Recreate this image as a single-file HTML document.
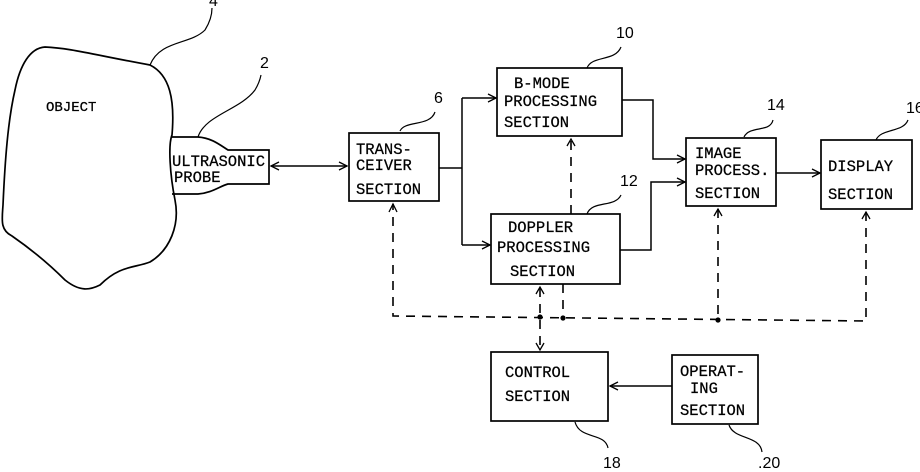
<!DOCTYPE html>
<html><head><style>
html,body{margin:0;padding:0;background:#fff;}
svg{display:block;}
text{font-family:"Liberation Mono",monospace;font-size:15.5px;fill:#000;stroke:#000;stroke-width:0.25;}
.n{font-family:"Liberation Sans",sans-serif;font-size:16px;stroke:none;}
</style></head><body>
<svg width="920" height="472" viewBox="0 0 920 472" xmlns="http://www.w3.org/2000/svg">
<defs>
<marker id="a" markerWidth="10" markerHeight="10" refX="9" refY="5" orient="auto" markerUnits="userSpaceOnUse"><path d="M1,1 L9,5 L1,9" fill="none" stroke="#000" stroke-width="1.3"/></marker>
<marker id="s" markerWidth="10" markerHeight="10" refX="1" refY="5" orient="auto" markerUnits="userSpaceOnUse"><path d="M9,1 L1,5 L9,9" fill="none" stroke="#000" stroke-width="1.3"/></marker>
</defs>
<g fill="none" stroke="#000" stroke-width="1.7">
<path d="M45,47 C70,48 95,55 150,65 C170,75 175,100 172,135 C168,145 170,175 175,200 C180,225 170,250 150,262 C135,268 120,265 100,285 C90,290 80,292 65,280 C45,260 25,245 12,236 C0,230 2,220 3,205 C5,160 8,120 15,90 C20,65 30,48 45,47 Z"/>
<path d="M172,137 L198,137 C212,138 220,145 228,150 L269,150 L269,184 L228,184 C220,186 212,193 198,194 L172,194"/>
<rect x="349" y="133" width="90" height="68"/>
<rect x="497" y="68" width="125" height="68"/>
<rect x="491" y="214" width="129" height="70"/>
<rect x="686" y="138" width="90" height="68"/>
<rect x="821" y="140" width="91" height="69"/>
<rect x="491" y="352" width="117" height="69"/>
<rect x="672" y="355" width="86" height="69"/>
</g>
<g fill="none" stroke="#000" stroke-width="1.5">
<line x1="271" y1="166" x2="347" y2="166" marker-start="url(#s)" marker-end="url(#a)"/>
<line x1="439" y1="168" x2="462" y2="168"/>
<line x1="462" y1="98" x2="462" y2="245"/>
<line x1="462" y1="98" x2="496" y2="98" marker-end="url(#a)"/>
<line x1="462" y1="245" x2="490" y2="245" marker-end="url(#a)"/>
<polyline points="622,100 653,100 653,159 685,159" marker-end="url(#a)"/>
<polyline points="620,250 651,250 651,182 685,182" marker-end="url(#a)"/>
<line x1="776" y1="173" x2="820" y2="173" marker-end="url(#a)"/>
<line x1="672" y1="386" x2="610" y2="386" marker-end="url(#a)"/>
<path d="M150,65 C160,40 190,45 205,30 C210,22 212,15 212,8" stroke-width="1.2"/>
<path d="M198,137 C205,115 240,110 255,90 C258,85 260,80 261,75" stroke-width="1.2"/>
<path d="M400,131 C405,120 430,127 435,112" stroke-width="1.2"/>
<path d="M587,68 C592,55 615,62 621,47" stroke-width="1.2"/>
<path d="M587,214 C592,200 615,208 621,195" stroke-width="1.2"/>
<path d="M744,137 C750,125 770,133 773,120" stroke-width="1.2"/>
<path d="M876,140 C881,128 903,133 908,120" stroke-width="1.2"/>
<path d="M575,422 C580,440 605,432 608,448" stroke-width="1.2"/>
<path d="M729,425 C734,440 760,435 762,452" stroke-width="1.2"/>
</g>
<g fill="none" stroke="#000" stroke-width="1.6" stroke-dasharray="9,7">
<polyline points="866,212 866,321 393,316 393,204" />
<line x1="540" y1="288" x2="540" y2="350"/>
<line x1="563" y1="284" x2="563" y2="318"/>
<line x1="571" y1="214" x2="571" y2="139"/>
<line x1="718" y1="209" x2="718" y2="320"/>
</g>
<g fill="none" stroke="#000" stroke-width="1.3">
<path d="M389,212 L393,204 L397,212"/>
<path d="M536,294 L540,287 L544,294"/>
<path d="M536,343 L540,350 L544,343"/>
<path d="M567,146 L571,139 L575,146"/>
<path d="M714,216 L718,209 L722,216"/>
<path d="M862,219 L866,212 L870,219"/>
</g>
<g fill="#000"><circle cx="540" cy="317" r="2.6"/><circle cx="563" cy="318" r="2.6"/><circle cx="718" cy="320" r="2.6"/></g>
<text x="46" y="111" style="font-size:14px">OBJECT</text>
<text x="172" y="166">ULTRASONIC</text>
<text x="174" y="182">PROBE</text>
<text x="356" y="154">TRANS-</text>
<text x="356" y="170">CEIVER</text>
<text x="356" y="194">SECTION</text>
<text x="514" y="88">B-MODE</text>
<text x="504" y="106">PROCESSING</text>
<text x="504" y="127">SECTION</text>
<text x="508" y="232">DOPPLER</text>
<text x="497" y="252">PROCESSING</text>
<text x="510" y="276">SECTION</text>
<text x="695" y="158">IMAGE</text>
<text x="695" y="175">PROCESS.</text>
<text x="695" y="198">SECTION</text>
<text x="828" y="171">DISPLAY</text>
<text x="828" y="199">SECTION</text>
<text x="505" y="377">CONTROL</text>
<text x="505" y="401">SECTION</text>
<text x="680" y="376">OPERAT-</text>
<text x="690" y="393">ING</text>
<text x="680" y="415">SECTION</text>
<text class="n" x="209" y="6">4</text>
<text class="n" x="260" y="68">2</text>
<text class="n" x="434" y="103">6</text>
<text class="n" x="616" y="38">10</text>
<text class="n" x="620" y="186">12</text>
<text class="n" x="767" y="110">14</text>
<text class="n" x="906" y="113">16</text>
<text class="n" x="603" y="468">18</text>
<text class="n" x="758" y="468">.20</text>
</svg>
</body></html>
